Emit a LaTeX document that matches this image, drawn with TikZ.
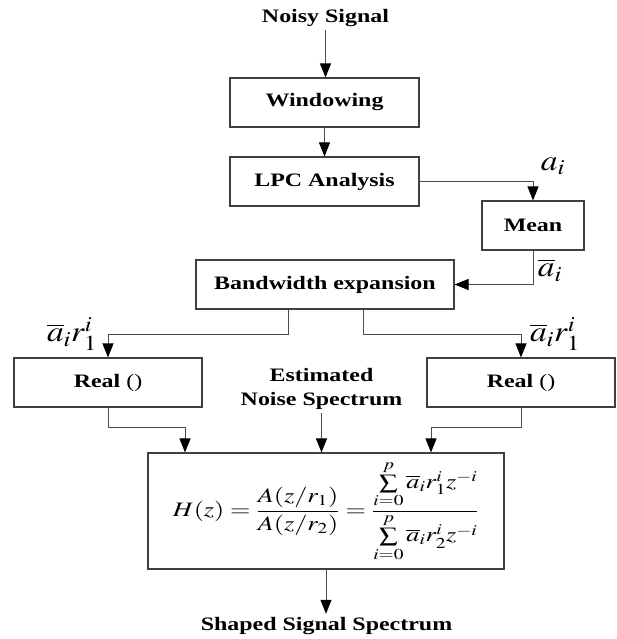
\documentclass[tikz,border=0pt]{standalone}
\usepackage{mathptmx}
\usepackage{fontspec}
\setmainfont{Liberation Serif}[FakeStretch=1.26]
\usepackage{graphicx}
\usetikzlibrary{arrows.meta,positioning}

% math stretched to match the wide lettering
\newcommand{\wm}[2][1.2]{\scalebox{#1}[1]{$#2$}}

\begin{document}
\begin{tikzpicture}[x=1pt, y=-1pt,
    block/.style={rectangle, draw=black!75, line width=1.1pt, text centered,
        font=\bfseries\fontsize{19}{22}\selectfont, minimum height=49pt},
    lbl/.style={font=\bfseries\fontsize{19}{24}\selectfont, align=center},
    mlbl/.style={font=\fontsize{29}{32}\selectfont, inner sep=0pt},
    arrow/.style={-{Triangle[length=14pt, width=11pt, color=black]}, line width=1pt, color=black!70}
]
    \useasboundingbox (0,0) rectangle (616,639);

    % --- Main chain ---
    \node[lbl] (noisy) at (325.5,18) {Noisy Signal};
    \node[block, minimum width=189pt] (win) at (324.5,102.5) {Windowing};
    \node[block, minimum width=189pt] (lpc) at (324.5,181.5) {LPC Analysis};
    \node[block, minimum width=102pt] (mean) at (533,225.5) {Mean};
    \node[block, minimum width=258pt] (bw) at (325,284.5) {Bandwidth expansion};

    % --- Two branches ---
    \node[block, minimum width=188pt] (realL) at (108,382.5) {Real \textmd{()}};
    \node[block, minimum width=188pt] (realR) at (521,382.5) {Real \textmd{()}};
    \node[lbl] (est) at (321.5,389) {Estimated\\Noise Spectrum};

    % --- Shaping filter ---
    \node[block, minimum width=356pt, minimum height=116pt, font=\fontsize{20.5}{24}\selectfont] (filt) at (326,511)
        {\wm[1.28]{\displaystyle H(z)=\frac{A(z/r_1)}{A(z/r_2)}=\frac{\sum\limits_{i=0}^{p}\overline{a}_i r_1^i z^{-i}}{\sum\limits_{i=0}^{p}\overline{a}_i r_2^i z^{-i}}}};
    \node[lbl] (shaped) at (326.5,626) {Shaped Signal Spectrum};

    % Labels
    \node[mlbl] (ai) at (553,166) {\wm[1.15]{a_i}};
    \node[mlbl] (abar) at (550,270) {\wm[1.15]{\overline{a}_i}};
    \node[mlbl] (arL) at (72,334) {\wm[1.15]{\overline{a}_i r_1^i}};
    \node[mlbl] (arR) at (555,334) {\wm[1.15]{\overline{a}_i r_1^i}};

    % Connectors
    \coordinate (bwL) at (288,334);
    \coordinate (bwR) at (363.5,334);
    \coordinate (jL) at (185,427);
    \coordinate (jR) at (431,427);

    \draw[arrow] (noisy) -- (noisy |- win.north);
    \draw[arrow] (win) -- (lpc);
    \draw[arrow] (lpc) -| (mean);
    \draw[arrow] (mean) |- (bw);
    \draw[arrow] (bw.south -| bwL) -- (bwL) -| (realL);
    \draw[arrow] (bw.south -| bwR) -- (bwR) -| (realR);
    \draw[arrow] (realL) |- (jL) -- (jL |- filt.north);
    \draw[arrow] (realR) |- (jR) -- (jR |- filt.north);
    \draw[arrow] (est) -- (est |- filt.north);
    \draw[arrow] (filt) -- (filt |- shaped.north);
\end{tikzpicture}
\end{document}
